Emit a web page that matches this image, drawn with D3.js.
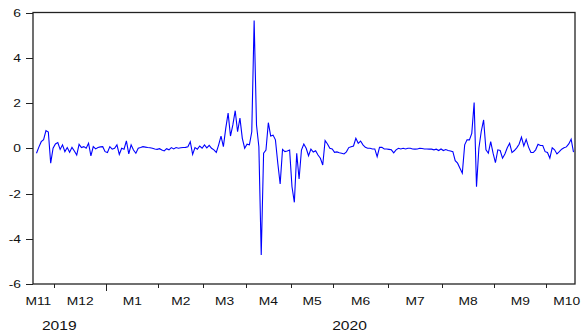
<!DOCTYPE html>
<html>
<head>
<meta charset="utf-8">
<script src="https://d3js.org/d3.v7.min.js"></script>
<style>
  body { margin: 0; background: #fff; }
  svg text { font-family: "Liberation Sans", Arial, sans-serif; fill: #111; }
</style>
</head>
<body>
<div id="chart"></div>
<script>
var values = [
  -0.22, 0.05, 0.29, 0.38, 0.78, 0.72, -0.66, 0.0, 0.19, 0.25, -0.05, 0.15, -0.15, 0.03,
  -0.18, 0.04, -0.12, -0.3, 0.17, 0.03, 0.07, 0.0, 0.22, -0.34, 0.07, -0.03, 0.03, 0.06,
  0.07, -0.15, -0.19, 0.07, -0.04, 0.0, 0.15, -0.27, 0.0, -0.04, 0.33, -0.25, 0.15,
  -0.08, -0.22, 0.0, 0.03, 0.07, 0.05, 0.03, 0.02, 0.0, -0.03, -0.05, -0.02, -0.08, -0.12,
  -0.02, -0.07, 0.03, -0.03, 0.03, 0.0, 0.02, 0.03, 0.04, 0.07,
  0.29, -0.27, 0.03, -0.04, 0.1, 0.0, 0.15, 0.02, 0.13, 0.0, -0.07, -0.18,
  0.15, 0.54, 0.07, 0.88, 1.55, 0.54, 1.03, 1.66, 0.73, 1.33, 0.44, 0.0, 0.18, 0.15, 0.73,
  5.65, 1.03, 0.07, -4.72, -0.22, -0.08, 1.13, 0.54, 0.58, 0.37, -0.66, -1.58, -0.05,
  -0.15, -0.12, -0.08, -1.7, -2.39, -0.22, -1.36, -0.08, 0.19, 0.0, -0.33,
  -0.04, -0.17, -0.11, -0.3, -0.44, -0.74, 0.34, 0.19, 0.0, -0.03, -0.18, -0.16, -0.2,
  -0.22, -0.25, -0.16, 0.03, 0.07, 0.1, 0.44, 0.22, 0.32, 0.15, 0.04, 0.0, 0.0, -0.03,
  -0.03, -0.37, 0.04, 0.04, -0.03, -0.03, -0.05, -0.07, -0.2, -0.07, 0.0,
  -0.03, 0.0, -0.03, 0.0, 0.0, -0.03, -0.04, -0.03, 0.0, -0.01, -0.03, -0.03, -0.04,
  -0.04, -0.07, -0.04, -0.1, -0.03, -0.1, -0.06, -0.1, -0.12, -0.15,
  -0.55, -0.66, -0.88, -1.1, 0.15, 0.37, 0.37, 0.66, 2.02, -1.7, 0.0, 0.74, 1.25,
  -0.07, -0.22, 0.29, -0.22, -0.64, -0.07, -0.1, -0.44, -0.25, 0.02, 0.22, -0.19, -0.1,
  0.02, 0.18, 0.49, 0.1, 0.39, 0.05, -0.19, -0.19, -0.07, 0.18, 0.12, 0.12, -0.15, -0.19,
  -0.44, 0.02, -0.07, -0.25, -0.15, -0.04, 0.02, 0.06, 0.19, 0.4, -0.17
];

// Months on the axis, and how many observations fall in each
var monthLabels = ['M11', 'M12', 'M1', 'M2', 'M3', 'M4', 'M5', 'M6', 'M7', 'M8', 'M9', 'M10'];
var monthCounts = [8, 22, 22, 19, 18, 19, 18, 23, 23, 22, 22, 12];
var monthYears  = ['2019', '2019', '2020', '2020', '2020', '2020', '2020', '2020', '2020', '2020', '2020', '2020'];
var yTicks = [-6, -4, -2, 0, 2, 4, 6];

/*
 * LAYOUT
 * =============================== */
var width = 582, height = 333;
var frame = {left: 33, right: 575, top: 12.5, bottom: 284};
var stretch = 1.2; // the source text is drawn a bit wide

var svg = d3.select('#chart').append('svg')
  .attr('width', width)
  .attr('height', height);

var x = d3.scaleLinear().domain([0, values.length - 1]).range([36.5, 573.5]);
var y = d3.scaleLinear().domain([-6, 6]).range([frame.bottom, frame.top]);

var widen = function(sel) {
  sel.each(function() {
    var w = this.getComputedTextLength();
    d3.select(this).attr('textLength', w * stretch).attr('lengthAdjust', 'spacingAndGlyphs');
  });
};

// month boundaries, in observation units
var starts = [];
var acc = 0;
monthCounts.forEach(function(c) { starts.push(acc); acc += c; });
var boundaries = starts.slice(1).map(function(s) { return s - 0.5; });

/*
 * AXES
 * =============================== */
var yAxis = svg.append('g')
  .attr('transform', 'translate(' + frame.left + ',0)')
  .call(d3.axisLeft(y)
    .tickValues(yTicks)
    .tickSize(7)
    .tickPadding(5)
    .tickFormat(function(d) { return String(d); }));
yAxis.select('.domain').remove();
yAxis.selectAll('line').attr('stroke', '#222').attr('shape-rendering', 'crispEdges');
yAxis.selectAll('text')
  .attr('font-family', null)
  .style('font-size', '11.5px');
widen(yAxis.selectAll('text'));

var xAxis = svg.append('g')
  .attr('transform', 'translate(0,' + frame.bottom + ')')
  .call(d3.axisBottom(x).tickValues(boundaries).tickSize(4).tickFormat(''));
xAxis.select('.domain').remove();
xAxis.selectAll('line')
  .attr('stroke', '#222')
  .attr('shape-rendering', 'crispEdges')
  .attr('y2', function(d, i) { return monthYears[i + 1] !== monthYears[i] ? 7 : 4; });

// month labels sit between the ticks
var labelG = svg.append('g');
var monthText = labelG.selectAll('text.month')
  .data(monthLabels)
  .enter().append('text')
  .attr('class', 'month')
  .attr('y', 305)
  .style('font-size', '11.5px')
  .text(function(d) { return d; });

monthText.each(function(d, i) {
  var left = i === 0 ? frame.left : x(boundaries[i - 1]);
  var right = i === monthLabels.length - 1 ? frame.right : x(boundaries[i]);
  var t = d3.select(this);
  if (i === 0) {
    t.attr('x', right - 3).attr('text-anchor', 'end');
  } else if (i === monthLabels.length - 1) {
    t.attr('x', left + 7).attr('text-anchor', 'start');
  } else {
    t.attr('x', (left + right) / 2).attr('text-anchor', 'middle');
  }
});
widen(monthText);

// year labels centred under their months
var years = [];
monthYears.forEach(function(yr, i) {
  var last = years[years.length - 1];
  if (!last || last.year !== yr) years.push({year: yr, first: i, last: i});
  else last.last = i;
});
var nodes = monthText.nodes();
var centre = function(i) {
  var b = nodes[i].getBBox();
  return b.x + b.width / 2;
};
var yearText = labelG.selectAll('text.year')
  .data(years)
  .enter().append('text')
  .attr('class', 'year')
  .attr('y', 329.5)
  .attr('text-anchor', 'middle')
  .attr('x', function(d) { return (centre(d.first) + centre(d.last)) / 2; })
  .style('font-size', '13px')
  .text(function(d) { return d.year; });
widen(yearText);

/*
 * SERIES
 * =============================== */
var line = d3.line()
  .x(function(d, i) { return x(i); })
  .y(function(d) { return y(d); });

svg.append('path')
  .datum(values)
  .attr('fill', 'none')
  .attr('stroke', '#0000ff')
  .attr('stroke-width', 1.1)
  .attr('stroke-linejoin', 'miter')
  .attr('d', line);

// frame around the plot
svg.append('rect')
  .attr('x', frame.left)
  .attr('y', frame.top)
  .attr('width', frame.right - frame.left)
  .attr('height', frame.bottom - frame.top)
  .attr('fill', 'none')
  .attr('stroke', '#222')
  .attr('stroke-width', 1.3);
</script>
</body>
</html>
